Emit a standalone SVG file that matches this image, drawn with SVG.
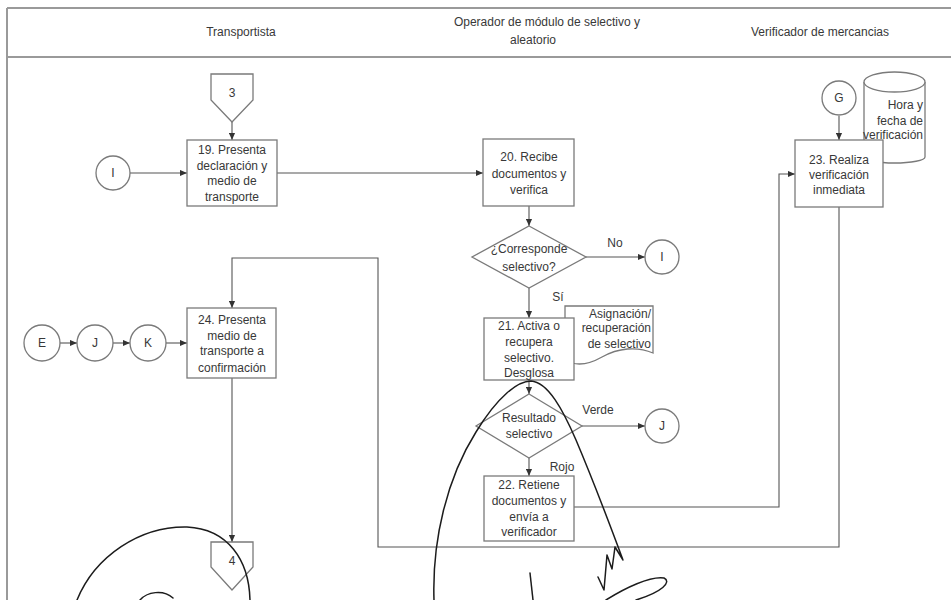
<svg xmlns="http://www.w3.org/2000/svg" width="951" height="600" viewBox="0 0 951 600">
  <defs>
    <marker id="arrow" viewBox="0 0 8 8" refX="8" refY="4" markerWidth="7" markerHeight="7" markerUnits="userSpaceOnUse" orient="auto">
      <path d="M0,0.5 L8,4 L0,7.5 Z" fill="#333"/>
    </marker>
  </defs>
  <style>
    text { font-family: "Liberation Sans", Arial, sans-serif; fill: #383838; }
    .hdr { font-size: 12px; text-anchor: middle; }
    .lbl { font-size: 12px; text-anchor: middle; }
    .frame { stroke: #9a9a9a; stroke-width: 2; fill: none; }
    .shape { fill: #fff; stroke: #7a7a7a; stroke-width: 1.3; }
    .conn { fill: none; stroke: #555; stroke-width: 1.1; }
    .arr { marker-end: url(#arrow); }
    .sig { fill: none; stroke: #1c1c1c; stroke-width: 1.5; stroke-linecap: round; stroke-linejoin: round; }
  </style>
  <rect width="951" height="600" fill="#fff"/>

  <!-- swimlane frame and header -->
  <g id="frame">
    <line class="frame" x1="7" y1="8" x2="951" y2="8"/>
    <line class="frame" x1="7" y1="57" x2="951" y2="57"/>
    <line class="frame" x1="7" y1="8" x2="7" y2="600"/>
    <text class="hdr" x="241" y="36">Transportista</text>
    <text class="hdr" x="547" y="26">Operador de módulo de selectivo y</text>
    <text class="hdr" x="533" y="44">aleatorio</text>
    <text class="hdr" x="820" y="36">Verificador de mercancias</text>
  </g>

  <!-- connectors -->
  <g id="connectors">
    <line class="conn arr" x1="232" y1="122" x2="232" y2="140"/>
    <line class="conn arr" x1="130" y1="173" x2="187" y2="173"/>
    <line class="conn arr" x1="277" y1="173" x2="483" y2="173"/>
    <line class="conn arr" x1="529" y1="206" x2="529" y2="226"/>
    <line class="conn arr" x1="586" y1="257" x2="645" y2="257"/>
    <line class="conn arr" x1="529" y1="288" x2="529" y2="318"/>
    <line class="conn arr" x1="529" y1="380" x2="529" y2="394"/>
    <line class="conn arr" x1="582" y1="426" x2="645" y2="426"/>
    <line class="conn arr" x1="529" y1="458" x2="529" y2="476"/>
    <polyline class="conn arr" points="574,507 779,507 779,174 795,174"/>
    <line class="conn arr" x1="839" y1="116" x2="839" y2="140"/>
    <polyline class="conn arr" points="839,207 839,547 378,547 378,258 232,258 232,308"/>
    <line class="conn arr" x1="60" y1="343" x2="77" y2="343"/>
    <line class="conn arr" x1="113" y1="343" x2="130" y2="343"/>
    <line class="conn arr" x1="166" y1="343" x2="187" y2="343"/>
    <line class="conn arr" x1="232" y1="378" x2="232" y2="542"/>
  </g>

  <!-- off-page connector 3 -->
  <g id="offpage-3">
    <polygon class="shape" points="211,74 253,74 253,100 232,122 211,100"/>
    <text class="lbl" x="232" y="97">3</text>
  </g>

  <g id="conn-I-in">
    <circle class="shape" cx="113" cy="173" r="17"/>
    <text class="lbl" x="113" y="177">I</text>
  </g>

  <g id="step-19">
    <rect class="shape" x="187" y="140" width="90" height="66"/>
    <text class="lbl" x="232" y="154">19. Presenta</text>
    <text class="lbl" x="232" y="169.5">declaración y</text>
    <text class="lbl" x="232" y="185">medio de</text>
    <text class="lbl" x="232" y="200.5">transporte</text>
  </g>

  <g id="step-20">
    <rect class="shape" x="483" y="139" width="91" height="67"/>
    <text class="lbl" x="529" y="161">20. Recibe</text>
    <text class="lbl" x="529" y="177.5">documentos y</text>
    <text class="lbl" x="529" y="194">verifica</text>
  </g>

  <g id="decision-selectivo">
    <polygon class="shape" points="529,226 586,257 529,288 472,257"/>
    <text class="lbl" x="529" y="252.5">¿Corresponde</text>
    <text class="lbl" x="529" y="271">selectivo?</text>
    <text class="lbl" x="615" y="247">No</text>
    <text class="lbl" x="558" y="301">Sí</text>
  </g>

  <g id="conn-I-out">
    <circle class="shape" cx="662" cy="257" r="17"/>
    <text class="lbl" x="662" y="261">I</text>
  </g>

  <!-- document: selective assignment record -->
  <g id="doc-asignacion">
    <path class="shape" d="M565,306 H653 V353 C637,346 618,348 602,357 C588,365 575,366 565,360 Z"/>
    <text class="lbl" x="651" y="317.5" style="text-anchor:end">Asignación/</text>
    <text class="lbl" x="651" y="332" style="text-anchor:end">recuperación</text>
    <text class="lbl" x="651" y="347.5" style="text-anchor:end">de selectivo</text>
  </g>

  <g id="step-21">
    <rect class="shape" x="484" y="318" width="90" height="62"/>
    <text class="lbl" x="529" y="329.5">21. Activa o</text>
    <text class="lbl" x="529" y="346">recupera</text>
    <text class="lbl" x="529" y="361.5">selectivo.</text>
    <text class="lbl" x="529" y="377">Desglosa</text>
  </g>

  <g id="decision-resultado">
    <polygon class="shape" points="529,394 582,426 529,458 476,426"/>
    <text class="lbl" x="529" y="422">Resultado</text>
    <text class="lbl" x="529" y="438">selectivo</text>
    <text class="lbl" x="598" y="414">Verde</text>
    <text class="lbl" x="562" y="471">Rojo</text>
  </g>

  <g id="conn-J-out">
    <circle class="shape" cx="662" cy="426" r="17"/>
    <text class="lbl" x="662" y="430">J</text>
  </g>

  <g id="step-22">
    <rect class="shape" x="484" y="476" width="90" height="65"/>
    <text class="lbl" x="529" y="488.5">22. Retiene</text>
    <text class="lbl" x="529" y="505">documentos y</text>
    <text class="lbl" x="529" y="520.5">envía a</text>
    <text class="lbl" x="529" y="536">verificador</text>
  </g>

  <!-- data store: inspection date and time -->
  <g id="store-hora">
    <path class="shape" d="M864,82 V157 A30.5,6 0 0 0 925,157 V82"/>
    <ellipse class="shape" cx="894.5" cy="82" rx="30.5" ry="10"/>
    <text class="lbl" x="923" y="109" style="text-anchor:end">Hora y</text>
    <text class="lbl" x="923" y="125" style="text-anchor:end">fecha de</text>
    <text class="lbl" x="923" y="138.5" style="text-anchor:end">verificación</text>
  </g>

  <g id="conn-G">
    <circle class="shape" cx="839" cy="98" r="17"/>
    <text class="lbl" x="839" y="102">G</text>
  </g>

  <g id="step-23">
    <rect class="shape" x="795" y="140" width="88" height="67"/>
    <text class="lbl" x="839" y="163.5">23. Realiza</text>
    <text class="lbl" x="839" y="178.5">verificación</text>
    <text class="lbl" x="839" y="194">inmediata</text>
  </g>

  <g id="conn-E">
    <circle class="shape" cx="42" cy="343" r="18"/>
    <text class="lbl" x="42" y="347">E</text>
  </g>
  <g id="conn-J-in">
    <circle class="shape" cx="95" cy="343" r="18"/>
    <text class="lbl" x="95" y="347">J</text>
  </g>
  <g id="conn-K">
    <circle class="shape" cx="148" cy="343" r="18"/>
    <text class="lbl" x="148" y="347">K</text>
  </g>

  <g id="step-24">
    <rect class="shape" x="187" y="308" width="89" height="70"/>
    <text class="lbl" x="232" y="323.5">24. Presenta</text>
    <text class="lbl" x="232" y="339.5">medio de</text>
    <text class="lbl" x="232" y="355">transporte a</text>
    <text class="lbl" x="232" y="371.5">confirmación</text>
  </g>

  <g id="offpage-4">
    <polygon class="shape" points="211,542 253,542 253,567 232,590 211,567"/>
    <text class="lbl" x="232" y="565">4</text>
  </g>

  <!-- handwritten signature strokes -->
  <g id="signature">
    <path class="sig" d="M77,600 C95,556 140,526 187,527 C228,529 249,560 250,600"/>
    <path class="sig" d="M140,600 C147,592 163,589 173,598"/>
    <path class="sig" d="M434,600 C432,540 447,478 476,432 C498,396 518,381 531,381 C548,382 563,410 576,440 C593,480 610,525 623,560 L615,547 L612,569 L607,555 L604,590 L598,577"/>
    <path class="sig" d="M530,573 L533,600"/>
    <path class="sig" d="M606,600 C625,588 650,576 664,578 C672,582 662,592 636,600"/>
  </g>
</svg>
